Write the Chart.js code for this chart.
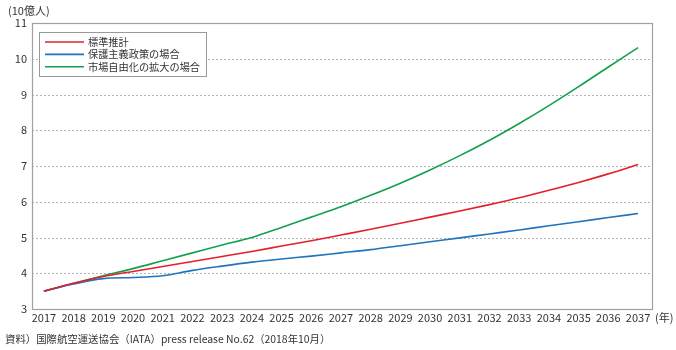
<!DOCTYPE html>
<html><head><meta charset="utf-8">
<script src="https://cdn.jsdelivr.net/npm/chart.js@4/dist/chart.umd.min.js"></script>
<style>html,body{margin:0;padding:0;background:#fff}#wrap{width:676px;height:350px;position:relative}</style>
</head><body><div id="wrap"><canvas id="c" width="676" height="350"></canvas></div>
<script>
const years = [2017,2018,2019,2020,2021,2022,2023,2024,2025,2026,2027,2028,2029,2030,2031,2032,2033,2034,2035,2036,2037];
const seriesNames = ['標準推計','保護主義政策の場合','市場自由化の拡大の場合'];
const baseline = [3.50,3.72,3.91,4.05,4.19,4.33,4.47,4.61,4.76,4.91,5.07,5.23,5.40,5.57,5.74,5.92,6.11,6.32,6.54,6.78,7.04];
const protectionism = [3.50,3.70,3.85,3.88,3.93,4.08,4.20,4.31,4.40,4.48,4.57,4.66,4.77,4.88,4.99,5.10,5.21,5.33,5.44,5.56,5.67];
const liberalization = [3.50,3.72,3.93,4.13,4.35,4.57,4.79,5.00,5.28,5.57,5.86,6.18,6.52,6.89,7.29,7.72,8.19,8.69,9.22,9.77,10.31];
const yTicks = [3,4,5,6,7,8,9,10,11];
const yUnit = '(10億人)';
const xUnit = '(年)';
const sourceText = '資料）国際航空運送協会（IATA）press release No.62（2018年10月）';
const colors = ['#e3202b','#1f74bb','#13a04b'];

const FONT = '"Noto Sans CJK JP","Noto Sans",sans-serif';
const pts = arr => arr.map((v,i)=>({x:years[i],y:v}));

const boxPlugin = {
  id:'box',
  beforeDatasetsDraw(chart){
    const {ctx, chartArea:a, scales:{x,y}} = chart;
    ctx.save();
    ctx.strokeStyle = '#b4b4b4';
    ctx.lineWidth = 1;
    ctx.setLineDash([2,2]);
    yTicks.forEach(t=>{
      if(t===yTicks[0]||t===yTicks[yTicks.length-1]) return;
      const py = Math.round(y.getPixelForValue(t))+0.5;
      ctx.beginPath(); ctx.moveTo(a.left,py); ctx.lineTo(a.right,py); ctx.stroke();
    });
    ctx.setLineDash([]);
    ctx.strokeStyle = '#a0a0a0';
    ctx.lineWidth = 1.2;
    ctx.strokeRect(Math.round(a.left)+0.5, Math.round(a.top)+0.5, Math.round(a.right-a.left), Math.round(a.bottom-a.top));
    ctx.restore();
  },
  afterDraw(chart){
    const {ctx} = chart;
    ctx.save();
    const lx=39, ly=32, lw=167, lh=44;
    ctx.fillStyle='#fff'; ctx.fillRect(lx,ly,lw,lh);
    ctx.strokeStyle='#999'; ctx.lineWidth=1;
    ctx.strokeRect(lx+0.5,ly+0.5,lw,lh);
    ctx.font = '10.2px '+FONT;
    ctx.textBaseline='middle'; ctx.textAlign='left';
    chart.data.datasets.forEach((ds,i)=>{
      const yy = 42 + i*12.4;
      ctx.strokeStyle = ds.borderColor; ctx.lineWidth=1.6;
      ctx.beginPath(); ctx.moveTo(45,yy); ctx.lineTo(84,yy); ctx.stroke();
      ctx.fillStyle='#333';
      ctx.fillText(ds.label, 88, yy);
    });
    ctx.fillStyle='#333';
    ctx.font='11px '+FONT;
    ctx.fillText(yUnit, 8, 11);
    ctx.fillText(xUnit, 655, 318);
    ctx.font='10.4px '+FONT;
    ctx.fillText(sourceText, 5, 339);
    ctx.restore();
  }
};

new Chart(document.getElementById('c'),{
  type:'line',
  data:{datasets:[
    {label:seriesNames[0], data:pts(baseline), borderColor:colors[0]},
    {label:seriesNames[1], data:pts(protectionism), borderColor:colors[1]},
    {label:seriesNames[2], data:pts(liberalization), borderColor:colors[2]}
  ]},
  options:{
    responsive:false, animation:false,
    layout:{padding:{left:0,right:24,top:23,bottom:0}},
    elements:{line:{borderWidth:1.6, cubicInterpolationMode:'monotone', fill:false}, point:{radius:0}},
    plugins:{legend:{display:false}, tooltip:{enabled:false}},
    scales:{
      x:{type:'linear', min:2016.6, max:2037.47,
        afterBuildTicks(s){ s.ticks = years.map(v=>({value:v})); },
        afterFit(s){ s.height = 41; },
        grid:{display:false, drawTicks:false}, border:{display:false},
        ticks:{color:'#333', font:{size:11, family:FONT}, padding:2, maxRotation:0, autoSkip:false,
          callback:v=>String(v)}
      },
      y:{type:'linear', min:3, max:11,
        afterBuildTicks(s){ s.ticks = yTicks.map(v=>({value:v})); },
        afterFit(s){ s.width = 32; },
        grid:{display:false, drawTicks:false}, border:{display:false},
        ticks:{color:'#333', font:{size:11, family:FONT}, padding:5}
      }
    }
  },
  plugins:[boxPlugin]
});
</script></body></html>
